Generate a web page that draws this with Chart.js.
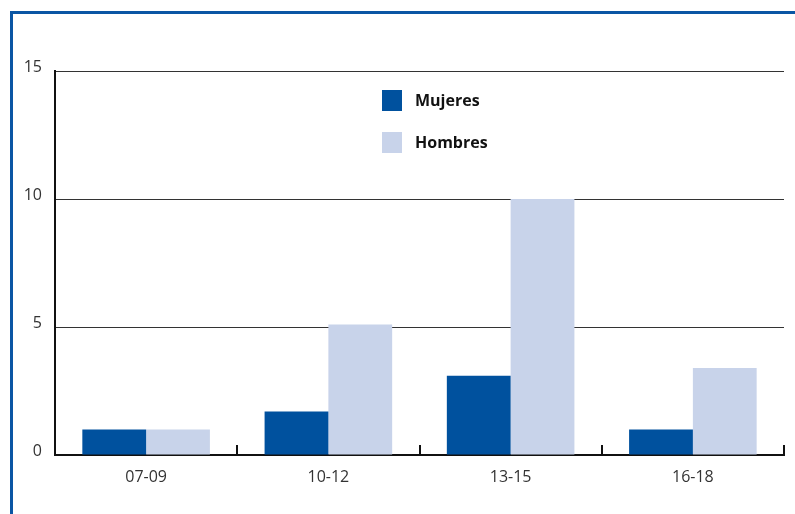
<!DOCTYPE html>
<html>
<head>
<meta charset="utf-8">
<script src="https://cdn.jsdelivr.net/npm/chart.js@4"></script>
<style>
  html, body { margin: 0; padding: 0; background: #fff; }
  #wrap { position: relative; width: 795px; height: 514px; }
  #frame {
    position: absolute; left: 10px; top: 11px; right: 0; bottom: 0;
    border-left: 3px solid #0a56a4; border-top: 3px solid #0a56a4;
    pointer-events: none;
  }
</style>
</head>
<body>
<div id="wrap">
  <canvas id="chart" width="795" height="514"></canvas>
  <div id="frame"></div>
</div>
<script>
const categories = ['07-09', '10-12', '13-15', '16-18'];
const mujeres = [1, 1.7, 3.1, 1];
const hombres = [1, 5.1, 10, 3.4];
const seriesNames = ['Mujeres', 'Hombres'];
const seriesColors = ['#00519e', '#c8d3ea'];
const yTicks = [0, 5, 10, 15];

// small upward ticks at the category boundaries of the x axis
const boundaryTicks = {
  id: 'boundaryTicks',
  afterDatasetsDraw(chart) {
    const { ctx, scales: { x }, chartArea } = chart;
    ctx.save();
    ctx.strokeStyle = '#111';
    ctx.lineWidth = 2;
    for (let i = 0; i < categories.length; i++) {
      const half = (x.getPixelForValue(1) - x.getPixelForValue(0)) / 2;
      const px = Math.round(x.getPixelForValue(i) + half);
      ctx.beginPath();
      ctx.moveTo(px, chartArea.bottom);
      ctx.lineTo(px, chartArea.bottom - 10);
      ctx.stroke();
    }
    ctx.restore();
  }
};

// legend drawn as two stacked rows inside the plot
const stackedLegend = {
  id: 'stackedLegend',
  afterDraw(chart) {
    const { ctx } = chart;
    ctx.save();
    ctx.font = 'bold 16px "Open Sans"';
    ctx.textBaseline = 'middle';
    chart.data.datasets.forEach((ds, i) => {
      const y = 90 + i * 42;
      ctx.fillStyle = ds.backgroundColor;
      ctx.fillRect(382, y, 20, 21);
      ctx.fillStyle = '#111';
      ctx.fillText(ds.label, 415, y + 11);
    });
    ctx.restore();
  }
};

new Chart(document.getElementById('chart'), {
  type: 'bar',
  data: {
    labels: categories,
    datasets: [
      { label: seriesNames[0], data: mujeres, backgroundColor: seriesColors[0] },
      { label: seriesNames[1], data: hombres, backgroundColor: seriesColors[1] }
    ]
  },
  options: {
    responsive: false,
    animation: false,
    layout: { padding: { top: 71, right: 11, left: 0, bottom: 0 } },
    plugins: { legend: { display: false }, tooltip: { enabled: false } },
    datasets: { bar: { categoryPercentage: 0.7, barPercentage: 1 } },
    scales: {
      x: {
        grid: { display: false },
        border: { display: true, color: '#111', width: 2 },
        ticks: {
          color: '#333',
          font: { family: 'Open Sans', size: 16 },
          padding: 5,
          maxRotation: 0
        },
        afterFit(scale) { scale.height = 59; }
      },
      y: {
        min: 0,
        max: 15,
        afterBuildTicks(scale) { scale.ticks = yTicks.map(v => ({ value: v })); },
        grid: { color: '#333', lineWidth: 1, drawTicks: false },
        border: { display: true, color: '#111', width: 2 },
        ticks: {
          color: '#333',
          font: { family: 'Open Sans', size: 16 },
          padding: 13,
          labelOffset: -4
        },
        afterFit(scale) { scale.width = 55; }
      }
    }
  },
  plugins: [boundaryTicks, stackedLegend]
});
</script>
</body>
</html>
